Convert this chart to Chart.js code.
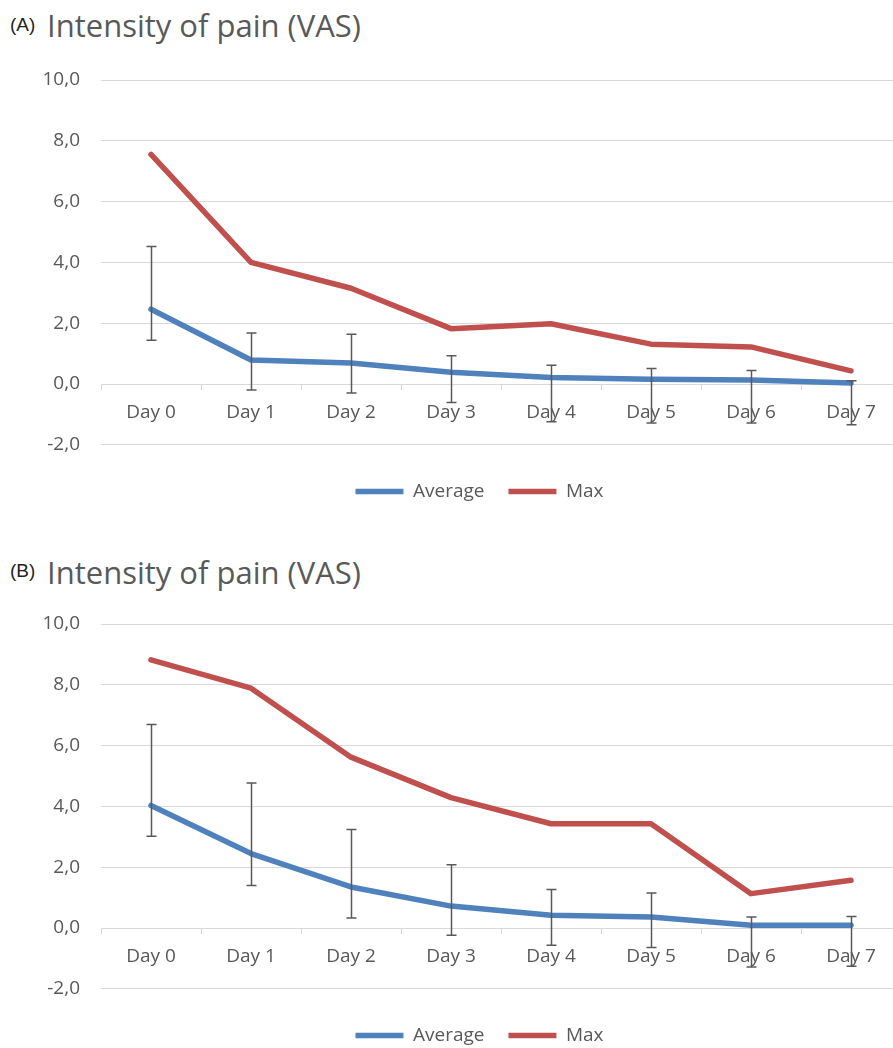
<!DOCTYPE html>
<html>
<head>
<meta charset="utf-8">
<script src="https://cdn.jsdelivr.net/npm/chart.js@4/dist/chart.umd.min.js"></script>
<style>
  html, body { margin: 0; padding: 0; background: #fff; }
  body { width: 893px; height: 1048px; overflow: hidden; position: relative; }
  .panel { position: absolute; left: 0; width: 910px; height: 511px; }
  .panel canvas { position: absolute; left: 0; top: 0; }
  .tag { position: absolute; left: 10px; font-family: "Liberation Sans", Arial, sans-serif; font-size: 19px; line-height: 1; color: #231f20; white-space: nowrap; }
  .title { position: absolute; left: 47px; font-family: "Open Sans", sans-serif; font-size: 31px; line-height: 1; color: #595959; white-space: nowrap; }
</style>
</head>
<body>
<div class="panel" style="top:0">
  <div class="tag" style="top:15px">(A)</div>
  <div class="title" style="top:10px">Intensity of pain (VAS)</div>
  <canvas id="chartA" width="910" height="511"></canvas>
</div>
<div class="panel" style="top:544px">
  <div class="tag" style="top:17px">(B)</div>
  <div class="title" style="top:13px">Intensity of pain (VAS)</div>
  <canvas id="chartB" width="910" height="511"></canvas>
</div>
<script>
const days = ['Day 0', 'Day 1', 'Day 2', 'Day 3', 'Day 4', 'Day 5', 'Day 6', 'Day 7'];
const yTicks = [-2, 0, 2, 4, 6, 8, 10];

// panel A
const avgA = [2.46, 0.79, 0.69, 0.39, 0.21, 0.16, 0.13, 0.03];
const maxA = [7.55, 4.0, 3.15, 1.82, 1.98, 1.31, 1.22, 0.43];
const avgHighA = [4.52, 1.68, 1.64, 0.93, 0.62, 0.51, 0.44, 0.11];
const avgLowA = [1.44, -0.2, -0.3, -0.61, -1.24, -1.28, -1.28, -1.34];

// panel B
const avgB = [4.03, 2.45, 1.35, 0.72, 0.42, 0.36, 0.09, 0.09];
const maxB = [8.82, 7.89, 5.62, 4.29, 3.43, 3.43, 1.13, 1.57];
const avgHighB = [6.69, 4.77, 3.24, 2.08, 1.27, 1.15, 0.36, 0.38];
const avgLowB = [3.02, 1.40, 0.33, -0.24, -0.57, -0.64, -1.28, -1.26];

const BLUE = '#4f81bd';
const RED = '#c0504d';
const TEXT = '#595959';
const GRID = '#d9d9d9';

// vertical error bars for datasets carrying errHigh / errLow
const errorBars = {
  id: 'errorBars',
  afterDatasetsDraw(chart) {
    const ctx = chart.ctx;
    const y = chart.scales.y;
    chart.data.datasets.forEach((ds, i) => {
      if (!ds.errHigh) return;
      const meta = chart.getDatasetMeta(i);
      ctx.save();
      ctx.strokeStyle = '#595959';
      ctx.lineWidth = 1.5;
      meta.data.forEach((pt, j) => {
        const x = Math.round(pt.x) + 0.5;
        const top = y.getPixelForValue(ds.errHigh[j]);
        const bot = y.getPixelForValue(ds.errLow[j]);
        ctx.beginPath();
        ctx.moveTo(x, top); ctx.lineTo(x, bot);
        ctx.moveTo(x - 5, top); ctx.lineTo(x + 5, top);
        ctx.moveTo(x - 5, bot); ctx.lineTo(x + 5, bot);
        ctx.stroke();
      });
      ctx.restore();
    });
  }
};

// legend is centred on the plot the way excel does it, not on the whole canvas
const legendShift = {
  id: 'legendShift',
  afterLayout(chart) {
    chart.legend.left = 58;
  }
};

function makeChart(id, avg, max, hi, lo) {
  return new Chart(document.getElementById(id), {
    type: 'line',
    data: {
      labels: days,
      datasets: [
        { label: 'Average', data: avg, errHigh: hi, errLow: lo, borderColor: BLUE, backgroundColor: BLUE,
          borderWidth: 5.5, pointRadius: 0, tension: 0, borderCapStyle: 'round', borderJoinStyle: 'round' },
        { label: 'Max', data: max, borderColor: RED, backgroundColor: RED,
          borderWidth: 5.5, pointRadius: 0, tension: 0, borderCapStyle: 'round', borderJoinStyle: 'round' }
      ]
    },
    options: {
      responsive: false,
      animation: false,
      layout: { padding: { top: 80, right: 9, left: 0, bottom: 0 } },
      plugins: {
        tooltip: { enabled: false },
        legend: {
          position: 'bottom',
          title: { display: true, text: ' ', padding: 0, font: { size: 11 } },
          labels: {
            usePointStyle: true,
            pointStyle: 'line',
            pointStyleWidth: 48,
            padding: 24,
            color: TEXT,
            font: { family: 'Open Sans', size: 19 }
          }
        }
      },
      scales: {
        x: {
          position: { y: 0 },
          offset: true,
          grid: { offset: true, drawOnChartArea: false, tickLength: 5, color: GRID },
          border: { display: true, color: GRID },
          ticks: { color: TEXT, font: { family: 'Open Sans', size: 19 }, padding: 12, maxRotation: 0, autoSkip: false }
        },
        y: {
          min: yTicks[0],
          max: yTicks[yTicks.length - 1],
          afterFit: s => { s.width = 101; },
          afterBuildTicks: s => { s.ticks = yTicks.map(v => ({ value: v })); },
          grid: { color: GRID, drawTicks: false },
          border: { display: false },
          ticks: {
            color: TEXT,
            padding: 21,
            font: { family: 'Open Sans', size: 19 },
            callback: v => v.toFixed(1).replace('.', ',')
          }
        }
      }
    },
    plugins: [errorBars, legendShift]
  });
}

makeChart('chartA', avgA, maxA, avgHighA, avgLowA);
makeChart('chartB', avgB, maxB, avgHighB, avgLowB);
</script>
</body>
</html>
